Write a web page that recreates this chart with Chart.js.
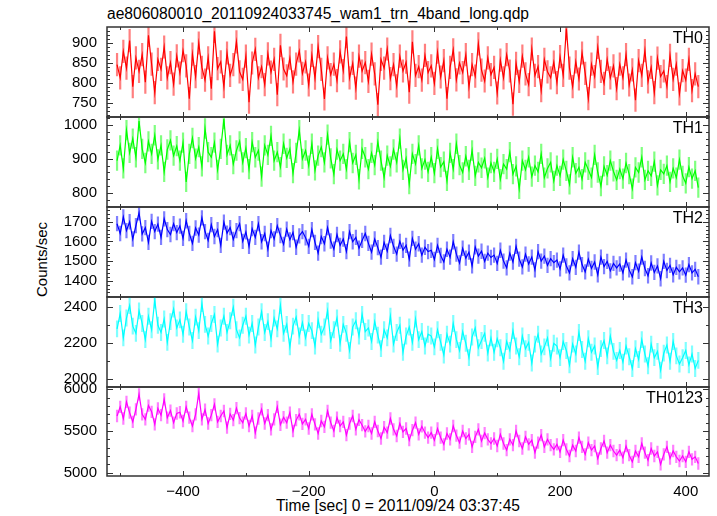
<!DOCTYPE html>
<html lang="en">
<head>
  <meta charset="UTF-8">
  <title>ae806080010 WAM light curve</title>
  <script src="https://cdn.jsdelivr.net/npm/chart.js"></script>
  <style>
    body { margin: 0; background: #fff; font-family: "Liberation Sans", Arial, sans-serif; color: #000; }
    #page { position: relative; width: 717px; height: 516px; overflow: hidden; }
    canvas { position: absolute; left: 0; }
    .txt { position: absolute; white-space: nowrap; line-height: 1; }
  </style>
</head>
<body>
<div id="page">
  <div class="txt" style="left:107px;top:6px;font-size:15.6px">ae806080010_20110924033745_wam1_trn_4band_long.qdp</div>
  <div class="txt" style="left:-19px;top:252px;width:120px;text-align:center;font-size:15px;transform:rotate(-90deg)">Counts/sec</div>
  <div class="txt" style="left:276px;top:498px;font-size:15.6px">Time [sec] 0 = 2011/09/24 03:37:45</div>
</div>

<script>
  // time bins: first bin and bin width (sec)
  const tStart = -505;
  const tStep = 5;
  const xMin = -521, xMax = 437;
  const xTicks = [-400, -200, 0, 200, 400];

  const th0 = [
    845, 812, 878, 836, 905, 790, 862, 828, 870, 801, 918, 846, 775, 858, 833, 889, 812, 850, 796, 867,
    824, 880, 842, 760, 871, 815, 899, 838, 806, 862, 785, 928, 835, 852, 790, 874, 818, 845, 902, 827,
    808, 866, 751, 849, 883, 812, 840, 795, 872, 826, 858, 770, 893, 834, 817, 861, 802, 846, 879, 823,
    852, 794, 868, 811, 890, 833, 759, 862, 820, 846, 805, 877, 830, 915, 812, 848, 786, 866, 829, 850,
    803, 871, 822, 745, 858, 836, 884, 810, 845, 792, 866, 829, 851, 776, 902, 818, 840, 806, 868, 825,
    842, 798, 876, 814, 855, 760, 838, 882, 807, 849, 825, 870, 789, 845, 816, 897, 831, 804, 862, 820,
    838, 774, 856, 812, 870, 829, 746, 848, 803, 866, 822, 795, 884, 818, 840, 780, 858, 827, 812, 851,
    800, 865, 818, 935, 836, 790, 852, 809, 874, 823, 760, 846, 815, 888, 828, 798, 858, 812, 842, 785,
    846, 812, 870, 794, 832, 756, 855, 818, 880, 802, 838, 775, 861, 815, 829, 790, 868, 808, 846, 772,
    830, 806, 858, 780, 822, 790
  ];
  const th1 = [
    895, 940, 872, 985, 918, 960, 905, 1012, 930, 888, 952, 915, 970, 899, 940, 862, 928, 955, 910, 938,
    895, 948, 832, 915, 962, 901, 935, 878, 990, 920, 905, 948, 868, 930, 1018, 912, 940, 885, 925, 952,
    890, 932, 870, 950, 905, 925, 848, 940, 912, 968, 895, 920, 876, 945, 903, 930, 858, 918, 985, 900,
    925, 880, 945, 866, 910, 935, 890, 972, 902, 855, 928, 895, 915, 870, 950, 888, 912, 840, 930, 905,
    870, 918, 882, 950, 895, 845, 910, 878, 928, 890, 960, 868, 902, 826, 915, 885, 940, 872, 898, 862,
    905, 858, 930, 876, 892, 835, 918, 870, 945, 882, 860, 908, 868, 925, 850, 890, 874, 902, 845, 888,
    862, 900, 840, 885, 870, 920, 855, 878, 812, 895, 868, 905, 848, 880, 862, 915, 845, 872, 890, 835,
    880, 850, 898, 865, 825, 905, 858, 875, 840, 890, 868, 845, 912, 860, 820, 878, 852, 895, 863, 838,
    870, 842, 888, 855, 812, 875, 860, 905, 838, 865, 850, 892, 822, 868, 856, 880, 832, 872, 845, 898,
    850, 828, 876, 842, 865, 815
  ];
  const th2 = [
    1690, 1640, 1725, 1655, 1700, 1612, 1680, 1745, 1638, 1670, 1595, 1702, 1650, 1688, 1620, 1715, 1660, 1635, 1690, 1645,
    1678, 1615, 1705, 1640, 1590, 1668, 1632, 1720, 1650, 1605, 1685, 1625, 1660, 1580, 1698, 1642, 1670, 1610, 1655, 1690,
    1600, 1648, 1575, 1665, 1620, 1690, 1598, 1640, 1560, 1655, 1612, 1680, 1630, 1585, 1662, 1608, 1645, 1570, 1628, 1650,
    1618, 1575, 1660, 1595, 1540, 1625, 1588, 1670, 1602, 1560, 1635, 1580, 1612, 1548, 1650, 1598, 1620, 1565, 1605, 1640,
    1590, 1545, 1612, 1568, 1520, 1595, 1550, 1630, 1575, 1535, 1600, 1555, 1580, 1510, 1615, 1560, 1588, 1530, 1570, 1548,
    1555, 1508, 1580, 1528, 1495, 1560, 1520, 1598, 1535, 1490, 1565, 1515, 1545, 1475, 1572, 1525, 1550, 1498, 1540, 1518,
    1530, 1488, 1555, 1500, 1465, 1540, 1495, 1575, 1510, 1470, 1535, 1485, 1520, 1455, 1548, 1500, 1525, 1478, 1512, 1492,
    1505, 1460, 1530, 1475, 1440, 1512, 1468, 1545, 1482, 1445, 1510, 1462, 1495, 1430, 1520, 1472, 1498, 1450, 1488, 1465,
    1485, 1440, 1505, 1455, 1420, 1492, 1448, 1520, 1462, 1425, 1490, 1442, 1475, 1410, 1498, 1452, 1478, 1430, 1468, 1445,
    1465, 1428, 1482, 1440, 1458, 1420
  ];
  const th3 = [
    2280, 2365, 2230, 2340, 2410, 2295, 2255, 2380, 2310, 2220, 2350, 2275, 2440, 2300, 2260, 2335, 2205, 2320, 2390, 2285,
    2330, 2250, 2375, 2290, 2215, 2345, 2270, 2420, 2305, 2240, 2310, 2360, 2195, 2285, 2350, 2260, 2325, 2400, 2275, 2230,
    2300, 2350, 2245, 2310, 2190, 2290, 2375, 2260, 2320, 2225, 2340, 2280, 2410, 2255, 2305, 2180, 2295, 2345, 2240, 2315,
    2230, 2310, 2270, 2185, 2330, 2250, 2290, 2380, 2215, 2275, 2340, 2200, 2305, 2255, 2160, 2290, 2325, 2240, 2360, 2265,
    2285, 2210, 2320, 2245, 2170, 2275, 2230, 2350, 2195, 2260, 2300, 2150, 2240, 2290, 2205, 2335, 2220, 2265, 2185, 2250,
    2240, 2180, 2275, 2205, 2135, 2250, 2195, 2310, 2220, 2160, 2265, 2200, 2120, 2235, 2285, 2175, 2215, 2255, 2145, 2230,
    2150, 2225, 2175, 2100, 2210, 2160, 2270, 2185, 2125, 2240, 2170, 2205, 2090, 2195, 2250, 2140, 2180, 2230, 2115, 2200,
    2185, 2120, 2210, 2160, 2080, 2195, 2140, 2260, 2165, 2100, 2225, 2150, 2185, 2070, 2170, 2215, 2130, 2240, 2155, 2105,
    2160, 2095, 2185, 2125, 2060, 2170, 2110, 2220, 2140, 2075, 2195, 2120, 2155, 2050, 2145, 2190, 2100, 2210, 2130, 2085,
    2120, 2160, 2080, 2140, 2060, 2105
  ];
  const th0123 = [
    5680, 5790, 5650, 5850, 5720, 5610, 5760, 5940, 5700, 5640, 5805, 5730, 5580, 5770, 5690, 5880, 5660, 5745, 5600, 5710,
    5725, 5620, 5790, 5660, 5560, 5700, 5950, 5640, 5755, 5590, 5690, 5820, 5610, 5680, 5740, 5540, 5705, 5630, 5775, 5655,
    5600, 5710, 5560, 5680, 5480, 5650, 5760, 5590, 5690, 5520, 5640, 5790, 5575, 5665, 5600, 5720, 5500, 5630, 5700, 5585,
    5640, 5530, 5700, 5580, 5470, 5620, 5550, 5740, 5600, 5500, 5660, 5560, 5610, 5450, 5590, 5680, 5520, 5635, 5570, 5495,
    5560, 5470, 5610, 5500, 5410, 5545, 5480, 5650, 5520, 5440, 5590, 5490, 5530, 5390, 5510, 5600, 5460, 5555, 5480, 5420,
    5480, 5390, 5530, 5420, 5340, 5470, 5400, 5560, 5445, 5360, 5500, 5410, 5460, 5310, 5430, 5520, 5380, 5475, 5400, 5350,
    5410, 5320, 5460, 5350, 5270, 5400, 5330, 5500, 5380, 5290, 5430, 5340, 5390, 5240, 5360, 5450, 5310, 5400, 5330, 5280,
    5340, 5250, 5390, 5280, 5200, 5330, 5260, 5420, 5310, 5220, 5360, 5270, 5320, 5170, 5290, 5380, 5240, 5330, 5260, 5210,
    5270, 5180, 5320, 5210, 5130, 5260, 5190, 5350, 5240, 5150, 5290, 5200, 5250, 5100, 5220, 5310, 5170, 5260, 5190, 5140,
    5200, 5130, 5250, 5160, 5190, 5110
  ];

  // 1-sigma errors (counts/sec)
  const errs = [29, 30, 39, 47, 74];

  const panels = [
    { name: 'TH0',    data: th0,    err: errs[0], color: '#ff0000', light: 'rgba(255,0,0,0.5)',   min: 714,  max: 939,  ticks: [750, 800, 850, 900],      minor: 10,  top: 27,  h: 90 },
    { name: 'TH1',    data: th1,    err: errs[1], color: '#00ff00', light: 'rgba(0,255,0,0.5)',   min: 758,  max: 1024, ticks: [800, 900, 1000],          minor: 20,  top: 117, h: 90 },
    { name: 'TH2',    data: th2,    err: errs[2], color: '#0000ff', light: 'rgba(0,0,255,0.5)',   min: 1317, max: 1775, ticks: [1400, 1500, 1600, 1700],  minor: 20,  top: 207, h: 90 },
    { name: 'TH3',    data: th3,    err: errs[3], color: '#00ffff', light: 'rgba(0,255,255,0.5)', min: 1957, max: 2457, ticks: [2000, 2200, 2400],        minor: 100, top: 297, h: 90 },
    { name: 'TH0123', data: th0123, err: errs[4], color: '#ff00ff', light: 'rgba(255,0,255,0.5)', min: 4960, max: 6028, ticks: [5000, 5500, 6000],        minor: 100, top: 387, h: 89 }
  ];

  Chart.defaults.font.family = '"Liberation Sans", Arial, sans-serif';
  Chart.defaults.font.size = 15;
  Chart.defaults.color = '#000';

  // error bars under the curve
  const errBars = {
    id: 'errBars',
    beforeDatasetsDraw(chart, args, opts) {
      const { ctx, chartArea: a, scales: { x, y } } = chart;
      ctx.save();
      ctx.beginPath();
      ctx.rect(a.left, a.top, a.right - a.left, a.bottom - a.top);
      ctx.clip();
      ctx.strokeStyle = opts.color;
      ctx.lineWidth = 2.2;
      ctx.beginPath();
      chart.data.datasets[0].data.forEach(pt => {
        const px = x.getPixelForValue(pt.x);
        ctx.moveTo(px, y.getPixelForValue(pt.y - opts.err));
        ctx.lineTo(px, y.getPixelForValue(pt.y + opts.err));
      });
      ctx.stroke();
      ctx.restore();
    }
  };

  // box with inward ticks on all sides
  const frame = {
    id: 'frame',
    afterDatasetsDraw(chart, args, opts) {
      const { ctx, chartArea: a, scales: { x, y } } = chart;
      ctx.save();
      ctx.strokeStyle = '#333';
      ctx.lineWidth = 1;
      ctx.beginPath();
      for (let v = Math.ceil(y.min / opts.minor) * opts.minor; v <= y.max; v += opts.minor) {
        const p = Math.round(y.getPixelForValue(v)) + 0.5;
        const len = opts.major.includes(v) ? 6 : 3;
        ctx.moveTo(a.left, p); ctx.lineTo(a.left + len, p);
        ctx.moveTo(a.right, p); ctx.lineTo(a.right - len, p);
      }
      for (let v = Math.ceil(x.min / 100) * 100; v <= x.max; v += 100) {
        const p = Math.round(x.getPixelForValue(v)) + 0.5;
        const len = v % 200 === 0 ? 5 : 3;
        ctx.moveTo(p, a.top); ctx.lineTo(p, a.top + len);
        ctx.moveTo(p, a.bottom); ctx.lineTo(p, a.bottom - len);
      }
      ctx.stroke();
      ctx.lineWidth = 1.5;
      ctx.strokeRect(a.left, a.top, a.right - a.left, a.bottom - a.top);
      ctx.restore();
    }
  };

  const page = document.getElementById('page');

  panels.forEach((p, i) => {
    const last = i === panels.length - 1;
    const cv = document.createElement('canvas');
    cv.width = 717;
    cv.height = last ? 516 - (p.top - 10) : p.h + 20;
    cv.style.top = (p.top - 10) + 'px';
    page.appendChild(cv);

    const lab = document.createElement('div');
    lab.className = 'txt';
    lab.style.cssText = `right:${717 - 703}px;top:${p.top + 2.5}px;font-size:16px`;
    lab.textContent = p.name;
    page.appendChild(lab);

    const pts = p.data.map((v, k) => ({ x: tStart + k * tStep, y: v }));

    new Chart(cv.getContext('2d'), {
      type: 'line',
      data: {
        datasets: [{
          data: pts,
          borderColor: p.color,
          borderWidth: 1.2,
          pointRadius: 0,
          tension: 0,
          fill: false
        }]
      },
      options: {
        responsive: false,
        animation: false,
        events: [],
        layout: { padding: { top: 10, bottom: last ? 0 : 10, left: 0, right: 8 } },
        scales: {
          x: {
            type: 'linear',
            min: xMin,
            max: xMax,
            display: last,
            afterFit: s => {
              if (last) s.height = 40;
              s.paddingLeft = 0; s.paddingRight = 0;
            },
            afterBuildTicks: s => { s.ticks = xTicks.map(v => ({ value: v })); },
            grid: { display: false, drawTicks: false },
            border: { display: false },
            ticks: {
              padding: 7,
              autoSkip: false,
              maxRotation: 0,
              callback: v => v < 0 ? '\u2212' + Math.abs(v) : String(v)
            }
          },
          y: {
            min: p.min,
            max: p.max,
            afterFit: s => {
              s.width = 107;
              s.paddingTop = 0; s.paddingBottom = 0;
            },
            afterBuildTicks: s => { s.ticks = p.ticks.map(v => ({ value: v })); },
            grid: { display: false, drawTicks: false },
            border: { display: false },
            ticks: { padding: 10, callback: v => String(v) }
          }
        },
        plugins: {
          legend: { display: false },
          tooltip: { enabled: false },
          errBars: { color: p.light, err: p.err },
          frame: { minor: p.minor, major: p.ticks }
        }
      },
      plugins: [errBars, frame]
    });
  });
</script>
</body>
</html>
